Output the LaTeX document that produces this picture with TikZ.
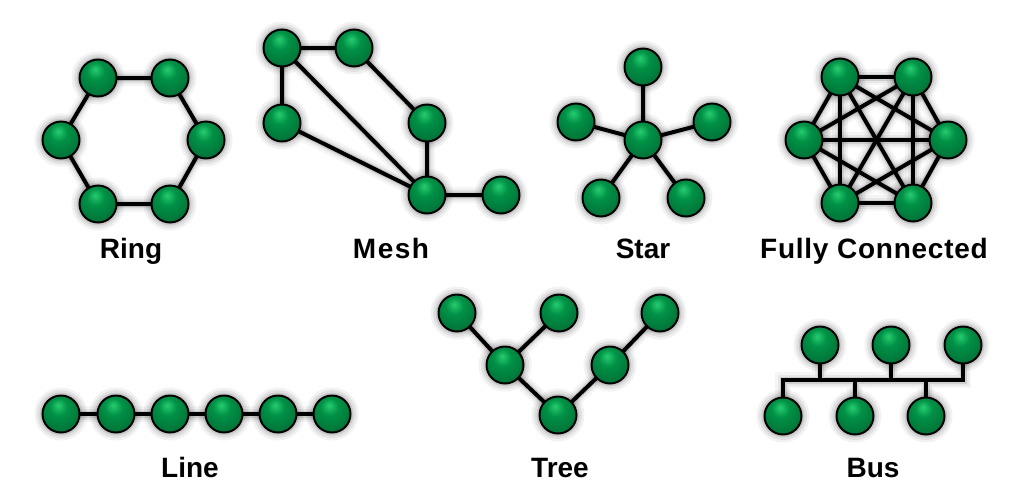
\documentclass[tikz,border=0pt]{standalone}
\usepackage{fontspec}
\setmainfont{Liberation Sans}
\usetikzlibrary{shadings}
\definecolor{gcA}{RGB}{38,205,112}
\definecolor{gcB}{RGB}{0,145,70}
\definecolor{gcC}{RGB}{0,92,44}
\pgfdeclareradialshading{greenball}{\pgfpoint{-4bp}{12bp}}{%
  color(0bp)=(gcA); color(12bp)=(gcB); color(45bp)=(gcC); color(70bp)=(gcC)}
\tikzset{
  nd/.style={circle, minimum size=37pt, inner sep=0pt, draw=black, line width=2pt,
    shading=greenball},
  ln/.style={line width=4pt, black, line join=miter,
    preaction={draw, line width=16pt, opacity=0.04},
    preaction={draw, line width=11pt, opacity=0.06},
    preaction={draw, line width=7pt, opacity=0.1}},
  lbl/.style={anchor=base, font=\fontsize{28}{28}\selectfont\bfseries}
}
\newcommand\ballshadow[1]{%
  \fill[black,opacity=0.05] (#1) circle (26.5pt);
  \fill[black,opacity=0.07] (#1) circle (24pt);
  \fill[black,opacity=0.1] (#1) circle (21.5pt);}
\begin{document}
\begin{tikzpicture}[x=1pt,y=-1pt]
\useasboundingbox (0,0) rectangle (1022,501);
% ---------- Ring
\coordinate (r1c) at (98,78); \coordinate (r2c) at (170,78);
\coordinate (r3c) at (206,140); \coordinate (r4c) at (170,204);
\coordinate (r5c) at (98,204); \coordinate (r6c) at (61,140);
\draw[ln] (r1c) -- (r2c) -- (r3c) -- (r4c) -- (r5c) -- (r6c) -- cycle;
\foreach \i in {1,...,6} {\ballshadow{r\i c}}
\foreach \i in {1,...,6} \node[nd] (r\i) at (r\i c) {};
\node[lbl] (ringl) at (131,258) {Ring};
% ---------- Mesh
\coordinate (mAc) at (282,48); \coordinate (mBc) at (354,48);
\coordinate (mCc) at (282,123); \coordinate (mDc) at (427,123);
\coordinate (mEc) at (427,195); \coordinate (mFc) at (501,195);
\draw[ln] (mAc) -- (mBc) (mAc) -- (mCc) (mAc) -- (mEc) (mBc) -- (mDc)
  (mCc) -- (mEc) (mDc) -- (mEc) (mEc) -- (mFc);
\foreach \i in {A,B,C,D,E,F} {\ballshadow{m\i c}}
\foreach \i in {A,B,C,D,E,F} \node[nd] (m\i) at (m\i c) {};
\node[lbl] (meshl) at (391,258) {M\kern1.5pt e\kern1.5pt s\kern1.5pt h};
% ---------- Star
\coordinate (s0c) at (643,140); \coordinate (s1c) at (643,67);
\coordinate (s2c) at (576,122); \coordinate (s3c) at (712,122);
\coordinate (s4c) at (601,198); \coordinate (s5c) at (686,198);
\draw[ln] (s0c) -- (s1c) (s0c) -- (s2c) (s0c) -- (s3c) (s0c) -- (s4c) (s0c) -- (s5c);
\foreach \i in {0,...,5} {\ballshadow{s\i c}}
\foreach \i in {0,...,5} \node[nd] (s\i) at (s\i c) {};
\node[lbl] (starl) at (643,258) {Star};
% ---------- Fully connected
\coordinate (f1c) at (840,77); \coordinate (f2c) at (913,77);
\coordinate (f3c) at (948,140); \coordinate (f4c) at (913,203);
\coordinate (f5c) at (840,203); \coordinate (f6c) at (804,140);
\foreach \i in {1,...,6}{\foreach \j in {1,...,6}{\ifnum\i<\j \draw[ln] (f\i c) -- (f\j c);\fi}}
\foreach \i in {1,...,6} {\ballshadow{f\i c}}
\foreach \i in {1,...,6} \node[nd] (f\i) at (f\i c) {};
\node[lbl] (fulll) at (874,258) {\addfontfeature{LetterSpace=2.7}Fully Connected};
% ---------- Line
\foreach \i/\x in {1/61,2/116,3/170,4/224,5/278,6/332} \coordinate (l\i c) at (\x,414);
\draw[ln] (l1c) -- (l6c);
\foreach \i in {1,...,6} {\ballshadow{l\i c}}
\foreach \i in {1,...,6} \node[nd] (l\i) at (l\i c) {};
\node[lbl] (linel) at (190,477) {Line};
% ---------- Tree
\coordinate (t1c) at (457,313); \coordinate (t2c) at (559,313);
\coordinate (t3c) at (660,313); \coordinate (t4c) at (505,365);
\coordinate (t5c) at (610,365); \coordinate (t6c) at (558,415);
\draw[ln] (t1c) -- (t4c) -- (t6c) -- (t5c) -- (t3c) (t2c) -- (t4c);
\foreach \i in {1,...,6} {\ballshadow{t\i c}}
\foreach \i in {1,...,6} \node[nd] (t\i) at (t\i c) {};
\node[lbl] (treel) at (560,477) {Tree};
% ---------- Bus
\coordinate (b1c) at (820,345); \coordinate (b2c) at (891,345);
\coordinate (b3c) at (963,345); \coordinate (b4c) at (783,416);
\coordinate (b5c) at (855,416); \coordinate (b6c) at (926,416);
\coordinate (busL) at (783,380); \coordinate (busR) at (963,380);
\draw[ln] (b4c) -- (busL) -- (busR) -- (b3c)
  (b1c) -- (b1c |- busL) (b2c) -- (b2c |- busL)
  (b5c) -- (b5c |- busL) (b6c) -- (b6c |- busL);
\foreach \i in {1,...,6} {\ballshadow{b\i c}}
\foreach \i in {1,...,6} \node[nd] (b\i) at (b\i c) {};
\node[lbl] (busl) at (873,477) {Bus};
\end{tikzpicture}
\end{document}
